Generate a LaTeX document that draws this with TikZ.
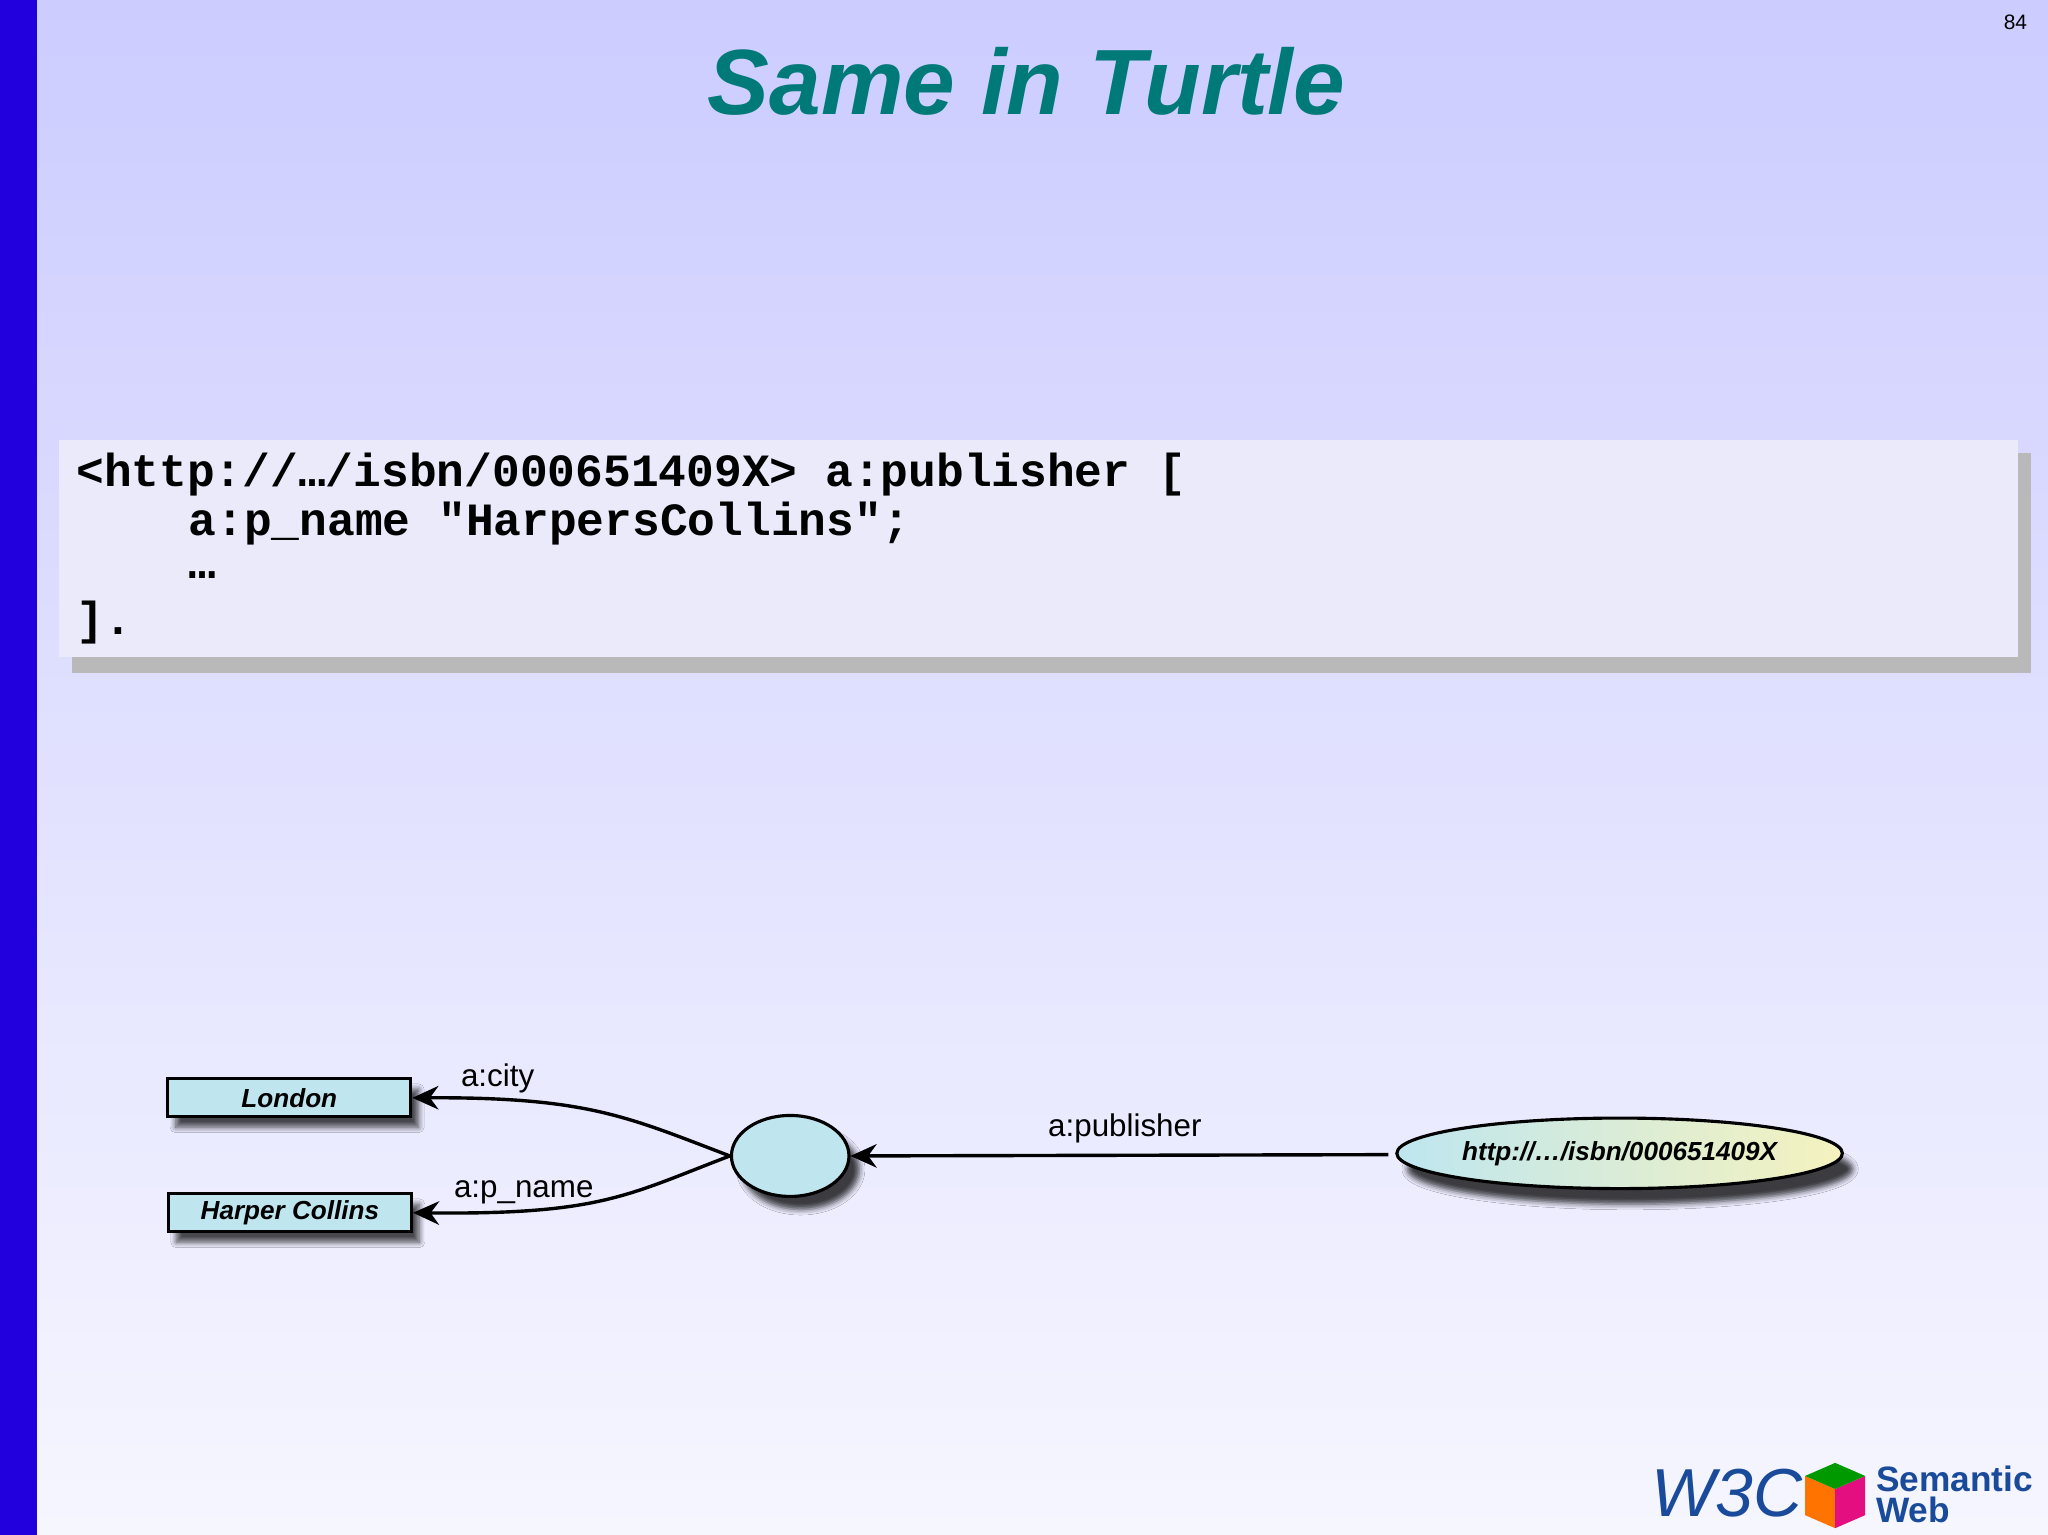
\documentclass[tikz,border=0pt]{standalone}
\usepackage{fontspec}
\setmainfont{Liberation Sans}
\newfontfamily\codefont{Liberation Mono}
\usetikzlibrary{arrows.meta,shadows.blur,shapes.geometric}
\definecolor{teal1}{HTML}{007A78}
\definecolor{boxc}{HTML}{BFE6EE}
\definecolor{w3blue}{HTML}{1A4B9B}
\definecolor{bgtop}{RGB}{204,204,255}
\definecolor{bgbot}{RGB}{246,246,255}
\definecolor{barc}{RGB}{34,0,221}
\definecolor{codebg}{RGB}{234,234,250}
\definecolor{ucyan}{RGB}{190,230,240}
\definecolor{uyel}{RGB}{245,242,190}
\tikzset{
 lit/.style={draw=black,line width=1.2pt,fill=boxc,minimum width=93pt,minimum height=14.5pt,inner sep=0pt,font=\fontsize{10}{12}\selectfont\bfseries\itshape,blur shadow={shadow xshift=3pt,shadow yshift=-4pt,shadow blur steps=8,shadow opacity=70}},
 edge/.style={line width=1.3pt,-{Stealth[length=10pt,width=9pt]}},
 elab/.style={font=\fontsize{12}{14}\selectfont,inner sep=0pt},
 codeline/.style={anchor=west,inner sep=0pt,font=\codefont\bfseries\fontsize{17.7}{20}\selectfont}
}
\begin{document}
\begin{tikzpicture}[x=0.5pt,y=-0.5pt]
\useasboundingbox (0,0) rectangle (1568,1175);
\shade[top color=bgtop,bottom color=bgbot] (0,0) rectangle (1568,1175);
\fill[barc] (0,0) rectangle (28,1175);
\node[font=\fontsize{35.5}{38}\selectfont\bfseries\itshape,text=teal1] (title) at (786,62) {Same in Turtle};
\node[font=\fontsize{8}{9}\selectfont] (pg) at (1543,17) {84};
% code box
\fill[gray!55] (55,347) rectangle (1555,515);
\fill[codebg] (45,337) rectangle (1545,503);
\node[codeline] (l1) at (58,363) {<http://…/isbn/000651409X> a:publisher [};
\node[codeline] (l2) at (144,401) {a:p\_name "HarpersCollins";};
\node[codeline] (l3) at (144,440) {…};
\node[codeline] (l4) at (58,477) {].};
% diagram
\node[lit] (lon) at (221.5,840.5) {London};
\node[lit] (har) at (222,928.5) {Harper Collins};
\node[draw=black,line width=1.2pt,fill=boxc,ellipse,minimum width=45pt,minimum height=31pt,blur shadow={shadow xshift=4pt,shadow yshift=-5pt,shadow opacity=75}] (bn) at (605,885) {};
\node[draw=black,line width=1.2pt,ellipse,minimum width=167pt,minimum height=27pt,left color=ucyan,right color=uyel,inner sep=0pt,font=\fontsize{10}{12}\selectfont\bfseries\itshape,blur shadow={shadow xshift=4pt,shadow yshift=-6pt,shadow opacity=75}] (uri) at (1240,883) {http://…/isbn/000651409X};
\coordinate (ustart) at (1063,884);
\draw[edge] (ustart) -- (bn.east) node[elab,pos=0.49,above=4pt] {a:publisher};
\draw[edge] (bn.west) .. controls (480,855) and (450,840) .. (lon.east);
\draw[edge] (bn.west) .. controls (480,915) and (460,930) .. (har.east);
\node[elab] (lc) at (381,826) {a:city};
\node[elab] (lp) at (401,913) {a:p\_name};
% logo
\node[font=\fontsize{26}{28}\selectfont\itshape,text=w3blue,inner sep=0pt] (w3c) at (1322,1143) {W3C};
\fill[orange!90!red] (1382,1130) -- (1405,1140) -- (1405,1170) -- (1382,1160) -- cycle;
\fill[magenta!80!purple] (1405,1140) -- (1428,1130) -- (1428,1160) -- (1405,1170) -- cycle;
\fill[green!60!black] (1382,1130) -- (1405,1120) -- (1428,1130) -- (1405,1140) -- cycle;
\node[font=\fontsize{13.5}{12}\selectfont\bfseries,text=w3blue,align=left,anchor=west,inner sep=0pt] (sw) at (1436,1144) {Semantic\\Web};
\end{tikzpicture}
\end{document}
